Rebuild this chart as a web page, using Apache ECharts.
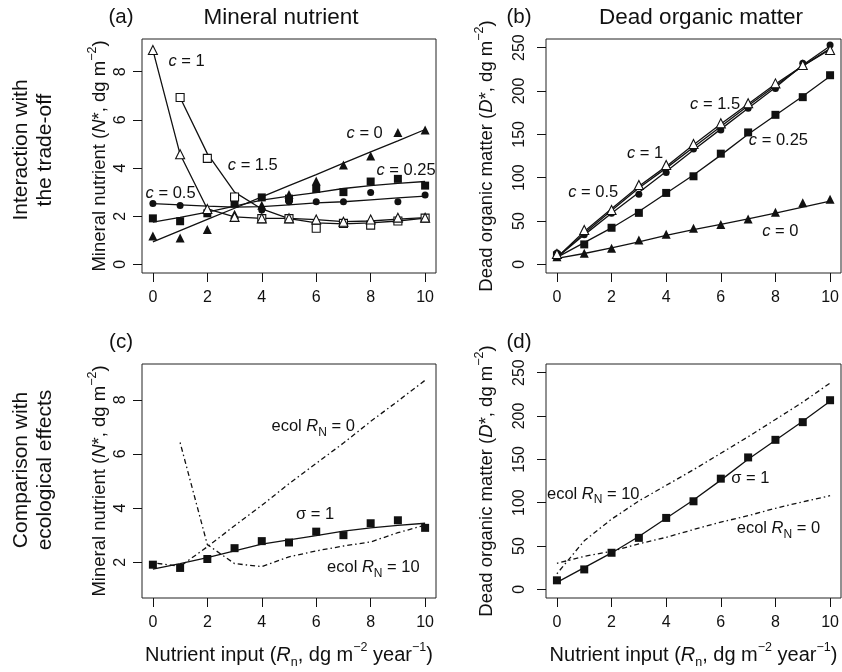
<!DOCTYPE html>
<html>
<head>
<meta charset="utf-8">
<script src="https://cdn.jsdelivr.net/npm/echarts@6/dist/echarts.min.js"></script>
<style>
  html, body { margin: 0; padding: 0; background: #fff; }
  #main { width: 842px; height: 672px; }
</style>
</head>
<body>
<div id="main"></div>
<script>
// nutrient input, shared by every panel
const xs = [0, 1, 2, 3, 4, 5, 6, 7, 8, 9, 10]
const xTicks = [0, 2, 4, 6, 8, 10]

// (a) mineral nutrient, interaction with the trade-off
const aLineC0 = [0.93, 1.40, 1.87, 2.33, 2.80, 3.27, 3.73, 4.20, 4.67, 5.13, 5.60]
const aPtsC0 = [1.18, 1.09, 1.45, 2.08, 2.45, 2.90, 3.46, 4.13, 4.50, 5.48, 5.58]
const aLineC025 = [1.75, 1.95, 2.17, 2.42, 2.67, 2.83, 2.98, 3.15, 3.27, 3.36, 3.44]
const aPtsC025 = [1.91, 1.79, 2.12, 2.52, 2.78, 2.73, 3.13, 3.00, 3.44, 3.55, 3.27]
const aLineC05 = [2.52, 2.47, 2.42, 2.38, 2.40, 2.47, 2.55, 2.60, 2.68, 2.76, 2.83]
const aPtsC05 = [2.53, 2.44, 2.12, 2.53, 2.26, 2.60, 2.60, 2.60, 2.98, 2.60, 2.88]
const aLineC1 = [8.90, 4.57, 2.30, 1.97, 1.91, 1.91, 1.86, 1.77, 1.80, 1.88, 1.94]
const aPtsC1 = [8.90, 4.57, 2.30, 1.97, 1.91, 1.91, 1.86, 1.77, 1.86, 1.94, 1.94]
const aLineC15 = [null, 6.93, 4.60, 3.00, 2.30, 1.90, 1.72, 1.68, 1.72, 1.80, 1.92]
const aPtsC15 = [null, 6.93, 4.40, 2.80, 1.90, 1.90, 1.50, 1.70, 1.63, 1.80, 1.92]
const aTicks = [0, 2, 4, 6, 8]

// (b) dead organic matter, interaction with the trade-off
const bLineC0 = [7, 12.5, 19, 26, 33.5, 40, 46, 52.5, 59, 66, 73]
const bPtsC0 = [8.8, 12.7, 18.5, 28, 34.6, 41.5, 46, 52.3, 60, 71, 75]
const bLineC025 = [8, 25, 42, 61, 82, 103, 126, 150, 172, 194, 217]
const bPtsC025 = [10.4, 23, 42.2, 59.4, 82.4, 101.6, 127.7, 152.2, 172.5, 192.9, 218.2]
const bLineC05 = [8, 34, 59, 83, 107, 132, 156, 180, 204, 230, 252]
const bPtsC05 = [13, 34, 59, 81, 106, 133, 155, 180, 203, 232, 253]
const bLineC1 = [8, 36, 62, 88, 111, 135, 159, 183, 206, 229, 249]
const bPtsC1 = [12, 39.6, 62.7, 91.5, 114.6, 138.8, 162.7, 185.8, 208.8, 230, 247.3]
const bLineC15 = [8, 38, 64, 90, 113, 138, 162, 185, 208, 229, 248]
const bTicks = [0, 50, 100, 150, 200, 250]

// (c) mineral nutrient, comparison with ecological effects
const cLineSigma = [1.75, 1.95, 2.17, 2.42, 2.67, 2.83, 2.98, 3.15, 3.27, 3.36, 3.44]
const cPtsSigma = [1.91, 1.79, 2.12, 2.52, 2.78, 2.73, 3.13, 3.00, 3.44, 3.55, 3.27]
const cEcol0 = [1.98, 1.85, 2.57, 3.35, 4.10, 4.90, 5.65, 6.40, 7.20, 7.95, 8.72]
const cEcol10 = [null, 6.42, 2.65, 1.95, 1.84, 2.20, 2.42, 2.60, 2.75, 3.09, 3.37]
const cTicks = [2, 4, 6, 8]

// (d) dead organic matter, comparison with ecological effects
const dLineSigma = [8, 25, 42, 61, 82, 103, 126, 150, 172, 194, 217]
const dPtsSigma = [10.4, 23, 42.2, 59.4, 82.4, 101.6, 127.7, 152.2, 172.5, 192.9, 218.2]
const dEcol10 = [18, 56, 81, 102, 120, 138, 157, 176, 196, 216, 238]
const dEcol0 = [30, 38, 44, 52.5, 60, 69, 77.5, 85, 93.5, 101, 108]
const dTicks = [0, 50, 100, 150, 200, 250]

const FONT = 'Liberation Sans, Arial, sans-serif'
const INK = '#111'
const dotdash = [1.5, 3, 5, 3]

const rich = {
  i: { fontStyle: 'italic', fontFamily: FONT, color: INK },
  sub: { fontSize: 12.5, lineHeight: 28, verticalAlign: 'bottom', fontFamily: FONT, color: INK },
  sup: { fontSize: 12.5, lineHeight: 28, verticalAlign: 'top', fontFamily: FONT, color: INK },
}

function pairs(ys) {
  return xs.map((x, i) => [x, ys[i]]).filter(p => p[1] != null)
}

function lineSeries(ys, g, dash) {
  return {
    type: 'line', xAxisIndex: g, yAxisIndex: g,
    data: pairs(ys),
    showSymbol: false, symbol: 'none', silent: true, clip: false, z: 2,
    lineStyle: { color: INK, width: 1.3, type: dash || 'solid', opacity: 1 },
  }
}

function pointSeries(ys, g, symbol, size, open) {
  return {
    type: 'scatter', xAxisIndex: g, yAxisIndex: g,
    data: pairs(ys),
    symbol: symbol, symbolSize: size, silent: true, clip: false, z: 3,
    itemStyle: open
      ? { color: '#fff', borderColor: INK, borderWidth: 1.1, opacity: 1 }
      : { color: INK, opacity: 1 },
  }
}

function noteSeries(notes, g) {
  return {
    type: 'scatter', xAxisIndex: g, yAxisIndex: g,
    symbolSize: 0, silent: true, clip: false, z: 4,
    itemStyle: { opacity: 1 },
    data: notes.map(n => ({ value: [n[0], n[1]], name: n[2] })),
    label: {
      show: true, position: 'inside', formatter: p => p.name,
      color: INK, fontSize: 16.5, fontFamily: FONT,
      rich: {
        i: { fontStyle: 'italic', fontSize: 16.5, fontFamily: FONT, color: INK },
        sub: { fontSize: 12, lineHeight: 24, verticalAlign: 'bottom', fontFamily: FONT, color: INK },
      },
    },
  }
}

const boxes = [
  { left: 142, top: 39, width: 294, height: 234 },
  { left: 546, top: 39, width: 295, height: 234 },
  { left: 142, top: 364, width: 294, height: 234 },
  { left: 546, top: 364, width: 295, height: 234 },
]

const xTitle = 'Nutrient input ({i|R}{sub|n}, dg m{sup|−2} year{sup|−1})'
const xAxes = boxes.map((b, g) => ({
  type: 'value', gridIndex: g, min: -0.4, max: 10.4,
  axisLine: { show: false, onZero: false }, splitLine: { show: false },
  axisTick: { customValues: xTicks, length: 9, lineStyle: { color: INK, width: 1 } },
  axisLabel: { customValues: xTicks, margin: 17, fontSize: 16, color: INK, fontFamily: FONT },
  name: g >= 2 ? xTitle : '', nameLocation: 'middle', nameGap: 43,
  nameTextStyle: { fontSize: 20, color: INK, fontFamily: FONT, rich: rich },
}))

const yTitles = [
  'Mineral nutrient ({i|N}*, dg m{sup|−2})',
  'Dead organic matter ({i|D}*, dg m{sup|−2})',
  'Mineral nutrient ({i|N}*, dg m{sup|−2})',
  'Dead organic matter ({i|D}*, dg m{sup|−2})',
]
const yRanges = [[-0.36, 9.36], [-10, 260], [0.68, 9.32], [-10, 260]]
const yTickSets = [aTicks, bTicks, cTicks, dTicks]
const yAxes = boxes.map((b, g) => ({
  type: 'value', gridIndex: g, min: yRanges[g][0], max: yRanges[g][1],
  axisLine: { show: false, onZero: false }, splitLine: { show: false },
  axisTick: { customValues: yTickSets[g], length: 9, lineStyle: { color: INK, width: 1 } },
  axisLabel: { customValues: yTickSets[g], rotate: 90, margin: g % 2 ? 18 : 13, fontSize: 16, color: INK, fontFamily: FONT },
  name: yTitles[g], nameLocation: 'middle', nameGap: g % 2 ? 45 : 28,
  nameTextStyle: { fontSize: 18.5, color: INK, fontFamily: FONT, rich: rich },
}))

function txt(x, y, text, size, rot) {
  return {
    type: 'text', x: x, y: y, rotation: rot ? Math.PI / 2 : 0, silent: true,
    style: {
      text: text, fill: INK, font: size + 'px ' + FONT,
      align: 'center', verticalAlign: 'middle', textAlign: 'center', textVerticalAlign: 'middle',
    },
  }
}

const chart = echarts.init(document.getElementById('main'), null, { renderer: 'canvas' })
chart.setOption({
  animation: false,
  backgroundColor: '#fff',
  grid: boxes.map(b => Object.assign({ show: true, borderColor: '#222', borderWidth: 1, backgroundColor: 'transparent' }, b)),
  xAxis: xAxes,
  yAxis: yAxes,
  graphic: [
    txt(121, 17, '(a)', 20.5),
    txt(281, 18, 'Mineral nutrient', 22.5),
    txt(519, 17, '(b)', 20.5),
    txt(701, 18, 'Dead organic matter', 22.5),
    txt(121, 342, '(c)', 20.5),
    txt(519, 342, '(d)', 20.5),
    txt(21, 150, 'Interaction with', 21, true),
    txt(45, 150, 'the trade-off', 21, true),
    txt(21, 470, 'Comparison with', 21, true),
    txt(45, 470, 'ecological effects', 21, true),
  ],
  series: [
    // (a)
    lineSeries(aLineC0, 0), lineSeries(aLineC025, 0), lineSeries(aLineC05, 0),
    lineSeries(aLineC1, 0), lineSeries(aLineC15, 0),
    pointSeries(aPtsC0, 0, 'triangle', 9),
    pointSeries(aPtsC025, 0, 'rect', 8),
    pointSeries(aPtsC05, 0, 'circle', 7),
    pointSeries(aPtsC15, 0, 'rect', 8, true),
    pointSeries(aPtsC1, 0, 'triangle', 9, true),
    noteSeries([
      [1.24, 8.44, '{i|c} = 1'], [3.67, 4.12, '{i|c} = 1.5'], [7.78, 5.45, '{i|c} = 0'],
      [9.3, 3.92, '{i|c} = 0.25'], [0.65, 2.96, '{i|c} = 0.5'],
    ], 0),
    // (b)
    lineSeries(bLineC0, 1), lineSeries(bLineC025, 1), lineSeries(bLineC05, 1),
    lineSeries(bLineC1, 1), lineSeries(bLineC15, 1),
    pointSeries(bPtsC0, 1, 'triangle', 9),
    pointSeries(bPtsC025, 1, 'rect', 8),
    pointSeries(bPtsC05, 1, 'circle', 7),
    pointSeries(bPtsC1, 1, 'triangle', 9, true),
    noteSeries([
      [5.79, 184, '{i|c} = 1.5'], [3.23, 128, '{i|c} = 1'], [1.33, 83, '{i|c} = 0.5'],
      [8.11, 143, '{i|c} = 0.25'], [8.18, 38, '{i|c} = 0'],
    ], 1),
    // (c)
    lineSeries(cEcol0, 2, dotdash), lineSeries(cEcol10, 2, dotdash),
    lineSeries(cLineSigma, 2),
    pointSeries(cPtsSigma, 2, 'rect', 8),
    noteSeries([
      [5.89, 7.02, 'ecol {i|R}{sub|N} = 0'], [5.96, 3.77, 'σ = 1'], [8.1, 1.8, 'ecol {i|R}{sub|N} = 10'],
    ], 2),
    // (d)
    lineSeries(dEcol10, 3, dotdash), lineSeries(dEcol0, 3, dotdash),
    lineSeries(dLineSigma, 3),
    pointSeries(dPtsSigma, 3, 'rect', 8),
    noteSeries([
      [1.33, 110, 'ecol {i|R}{sub|N} = 10'], [7.08, 128, 'σ = 1'], [8.11, 70, 'ecol {i|R}{sub|N} = 0'],
    ], 3),
  ],
})
</script>
</body>
</html>
